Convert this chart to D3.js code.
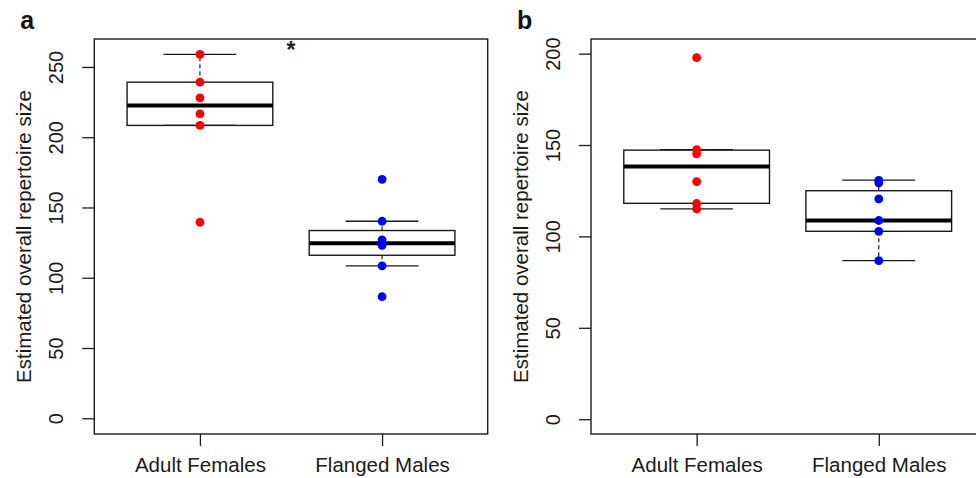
<!DOCTYPE html>
<html><head><meta charset="utf-8">
<script src="https://cdn.jsdelivr.net/npm/d3@7/dist/d3.min.js"></script>
<style>
html,body{margin:0;padding:0;background:#fff;}
svg{display:block;font-family:"Liberation Sans",Arial,sans-serif;}
</style></head>
<body><svg id="chart" width="976" height="478"></svg>
<script>
// ---- data ----
const categories = ["Adult Females", "Flanged Males"];
const panelLabels = ["a", "b"];
const yLabel = "Estimated overall repertoire size";

// individual estimates
const pointsA_AF = [259, 239.2, 228, 216.6, 208.4, 139.5];
const pointsA_FM = [170, 140.2, 127, 125, 123, 108.5, 86.5];
const pointsB_AF = [197.8, 147.5, 145.2, 130, 118, 115.1];
const pointsB_FM = [130.6, 129.3, 120.5, 108.7, 102.8, 86.7];

// box stats: [lower whisker, lower hinge, median, upper hinge, upper whisker]
const statsA_AF = [208.4, 208.4, 222.6, 239.2, 259];
const statsA_FM = [108.5, 116, 124.5, 133.6, 140.2];
const statsB_AF = [115.1, 118.1, 138.2, 147.2, 147.5];
const statsB_FM = [86.7, 102.8, 108.7, 125, 130.8];

const ticksA = [0, 50, 100, 150, 200, 250];
const ticksB = [0, 50, 100, 150, 200];
const colors = ["#ff0000", "#0000ff"];
const significance = "*";

const panels = [
  {label: panelLabels[0], left: 94.3, yDomain: [-11.2, 269.9], ticks: ticksA,
   stats: [statsA_AF, statsA_FM], points: [pointsA_AF, pointsA_FM], star: true},
  {label: panelLabels[1], left: 591, yDomain: [-8.1, 208], ticks: ticksB,
   stats: [statsB_AF, statsB_FM], points: [pointsB_AF, pointsB_FM], star: false}
];

const svg = d3.select("#chart");
const plotTop = 39, plotBottom = 434, plotWidth = 393.4;
const ink = "#1a1a1a";

panels.forEach(p => {
  const g = svg.append("g");
  const x = d3.scaleLinear().domain([0.42, 2.58]).range([p.left, p.left + plotWidth]);
  const y = d3.scaleLinear().domain(p.yDomain).range([plotBottom, plotTop]);

  // boxes
  p.stats.forEach((s, i) => {
    const cx = x(i + 1);
    const [lw, q1, med, q3, uw] = s;
    const bg = g.append("g");
    bg.append("line").attr("x1", cx).attr("x2", cx).attr("y1", y(q3)).attr("y2", y(uw))
      .attr("stroke", ink).attr("stroke-width", 1.2).attr("stroke-dasharray", "4,3");
    bg.append("line").attr("x1", cx).attr("x2", cx).attr("y1", y(q1)).attr("y2", y(lw))
      .attr("stroke", ink).attr("stroke-width", 1.2).attr("stroke-dasharray", "4,3");
    [lw, uw].forEach(v => {
      bg.append("line").attr("x1", x(i + 1 - 0.2)).attr("x2", x(i + 1 + 0.2))
        .attr("y1", y(v)).attr("y2", y(v)).attr("stroke", ink).attr("stroke-width", 1.3);
    });
    bg.append("rect").attr("x", x(i + 1 - 0.4)).attr("width", x(i + 1 + 0.4) - x(i + 1 - 0.4))
      .attr("y", y(q3)).attr("height", y(q1) - y(q3))
      .attr("fill", "none").attr("stroke", ink).attr("stroke-width", 1.4);
    bg.append("line").attr("x1", x(i + 1 - 0.4)).attr("x2", x(i + 1 + 0.4))
      .attr("y1", y(med)).attr("y2", y(med)).attr("stroke", "#000").attr("stroke-width", 4);
  });

  // points
  p.points.forEach((pts, i) => {
    g.append("g").selectAll("circle").data(pts).join("circle")
      .attr("cx", x(i + 1)).attr("cy", d => y(d)).attr("r", 4.4)
      .attr("fill", colors[i]);
  });

  // frame
  g.append("rect").attr("x", p.left).attr("y", plotTop).attr("width", plotWidth).attr("height", plotBottom - plotTop)
    .attr("fill", "none").attr("stroke", ink).attr("stroke-width", 1.4);

  // y axis
  const ya = g.append("g").attr("transform", `translate(${p.left},0)`)
    .call(d3.axisLeft(y).tickValues(p.ticks).tickSize(12).tickFormat(d3.format("d")));
  ya.select(".domain").remove();
  ya.selectAll(".tick line").attr("stroke", ink).attr("stroke-width", 1.3);
  ya.selectAll(".tick text")
    .attr("x", null).attr("dy", null)
    .attr("transform", "translate(-31,0) rotate(-90)")
    .attr("text-anchor", "middle")
    .attr("font-size", 20).attr("fill", "#1a1a1a")
    .attr("font-family", "Liberation Sans, Arial, sans-serif");

  // x axis
  const xa = g.append("g").attr("transform", `translate(0,${plotBottom})`)
    .call(d3.axisBottom(x).tickValues([1, 2]).tickSize(12).tickFormat((d) => categories[d - 1]));
  xa.select(".domain").remove();
  xa.selectAll(".tick line").attr("stroke", ink).attr("stroke-width", 1.3);
  xa.selectAll(".tick text").attr("y", 37.5).attr("dy", null)
    .attr("font-size", 20.5).attr("fill", "#1a1a1a")
    .attr("font-family", "Liberation Sans, Arial, sans-serif");

  // y label
  g.append("text")
    .attr("transform", `translate(${p.left - 63},${(plotTop + plotBottom) / 2}) rotate(-90)`)
    .attr("text-anchor", "middle").attr("font-size", 20.5).attr("fill", "#1a1a1a")
    .text(yLabel);

  // panel letter
  g.append("text").attr("x", p.left - 74).attr("y", 29)
    .attr("font-size", 25).attr("font-weight", "bold").attr("fill", "#111")
    .text(p.label);

  if (p.star) {
    g.append("text").attr("x", x(1.5)).attr("y", 57.5).attr("text-anchor", "middle")
      .attr("font-size", 23).attr("font-weight", "bold").attr("fill", "#222").text(significance);
  }
});
</script></body></html>
